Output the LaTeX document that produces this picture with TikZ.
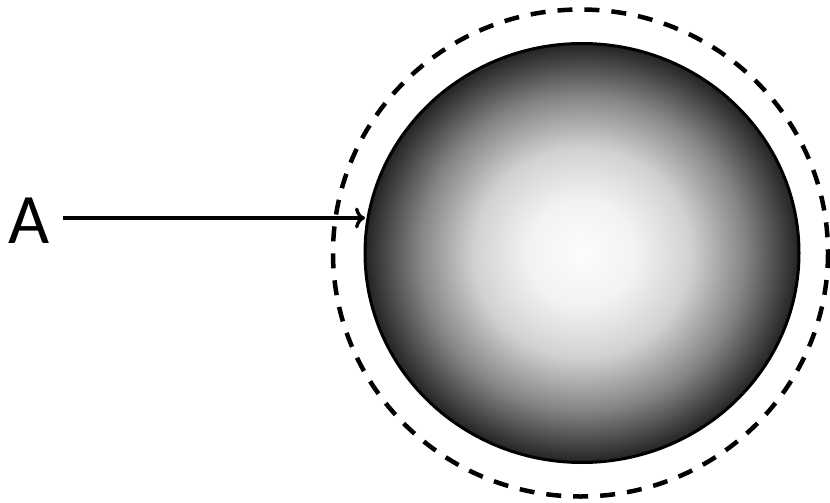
\documentclass[tikz,border=0pt]{standalone}
\usepackage{fontspec}
\setmainfont{Carlito}
\usetikzlibrary{arrows.meta}
\pgfdeclareradialshading{spherefill}{\pgfpoint{0bp}{0bp}}{%
  color(0bp)=(black!1);
  color(6.25bp)=(black!5);
  color(12.5bp)=(black!18);
  color(18.75bp)=(black!48);
  color(25bp)=(black!86);
  color(50bp)=(black!86)}
\tikzset{
  sphere/.style={draw=black, line width=3pt, shading=spherefill},
  halo/.style={draw=black, line width=4.5pt, dash pattern=on 15pt off 12pt},
  pointer/.style={draw=black, line width=4.2pt, -{To[length=10pt,width=21pt,line width=3.4pt]}},
  lbl/.style={font=\fontsize{71}{80}\selectfont, inner sep=0pt}
}
\begin{document}
\begin{tikzpicture}[x=1pt,y=-1pt]
\useasboundingbox (0,0) rectangle (830,503);
\path[halo] (580.5,253) ellipse [x radius=247.5, y radius=243.5];
\path[sphere] (582,253) ellipse [x radius=217, y radius=209.5];
\coordinate (s) at (365,218);
\node[lbl, anchor=base west] (A) at (8,243) {A};
\coordinate (t) at (63,218);
\path[pointer] (t) -- (s);
\end{tikzpicture}
\end{document}
